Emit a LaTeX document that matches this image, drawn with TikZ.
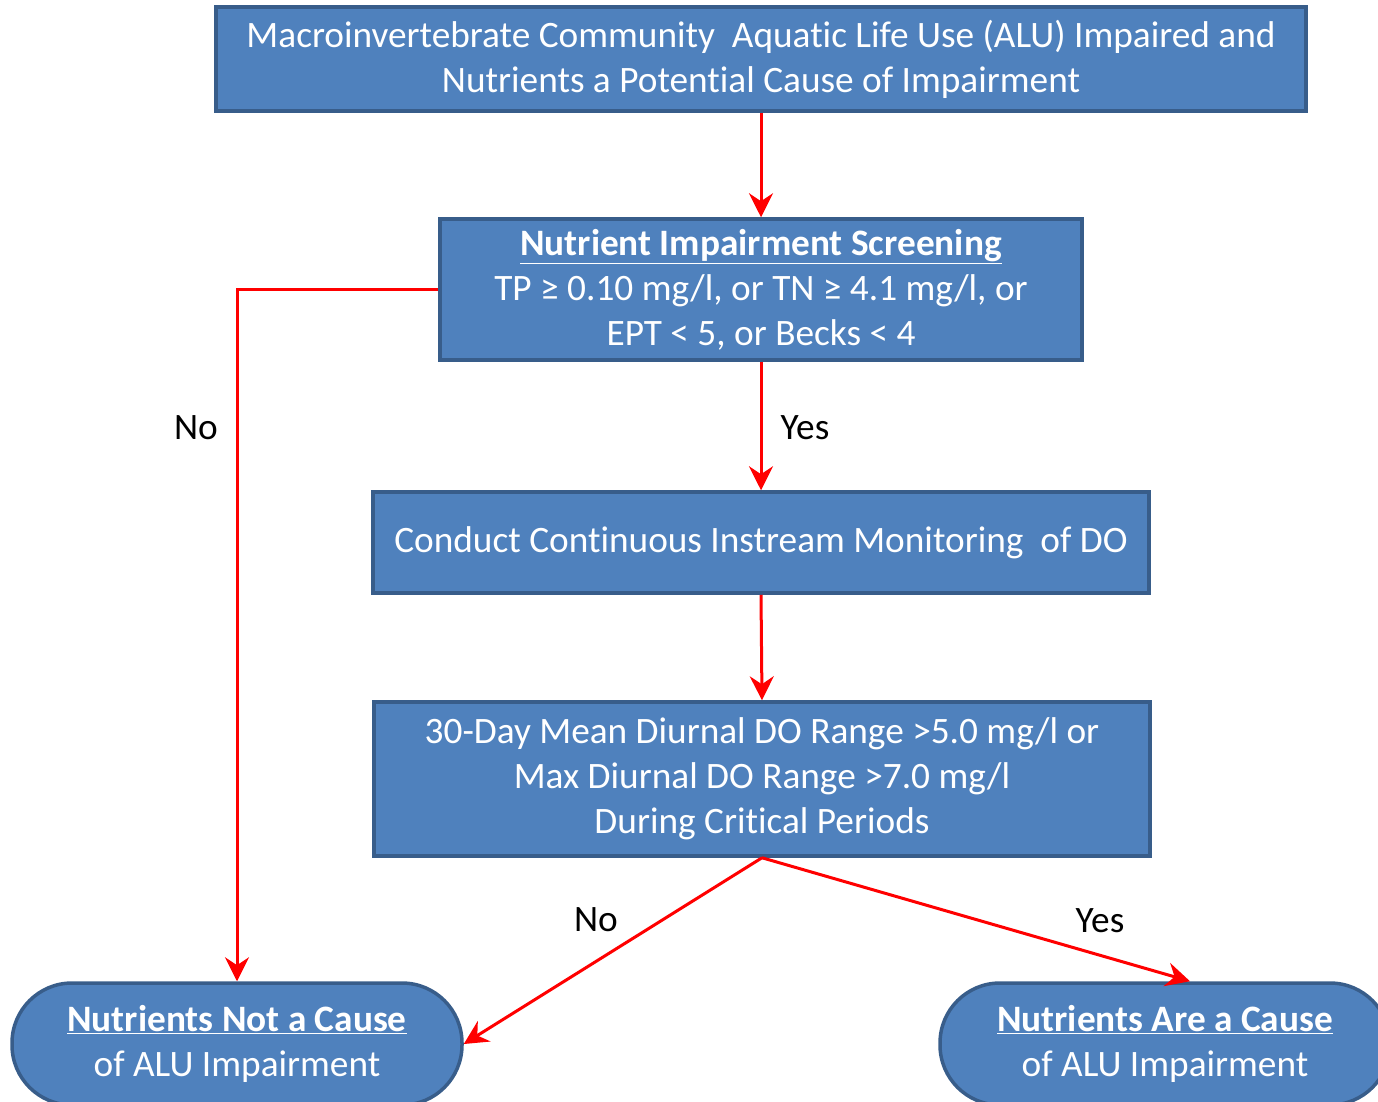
\documentclass[tikz,border=0pt]{standalone}
\usepackage{fontspec}
\setmainfont{Carlito}[Ligatures=NoCommon]
\usetikzlibrary{arrows.meta,calc}
\definecolor{boxfill}{HTML}{4F81BD}
\definecolor{boxline}{HTML}{385D8A}
\begin{document}
\begin{tikzpicture}[x=1pt,y=-1pt,
  box/.style={draw=boxline,fill=boxfill,line width=3.5pt,text=white,align=center,
    font=\fontsize{37.3}{45}\selectfont,inner sep=0pt},
  term/.style={box,rounded corners=60pt},
  conn/.style={draw=red,line width=3pt,-{Stealth[length=24pt,width=24pt,inset=8pt]}},
  lbl/.style={font=\fontsize{37.3}{45}\selectfont,text=black,inner sep=0pt}]
\useasboundingbox (0,0) rectangle (1378,1101);
\clip (0,0) rectangle (1378,1101);
\node[box,minimum width=1090pt,minimum height=104pt] (b1) at (761,59)
  {Macroinvertebrate Community\ \ Aquatic Life Use (ALU) Impaired and\\Nutrients a Potential Cause of Impairment};
\node[box,minimum width=642pt,minimum height=141pt] (b2) at (761,289.5)
  {\textbf{\underline{Nutrient Impairment Screening}}\\TP ≥ 0.10 mg/l, or TN ≥ 4.1 mg/l, or\\EPT < 5, or Becks < 4};
\node[box,minimum width=776pt,minimum height=101pt] (b3) at (761,542.5)
  {Conduct Continuous Instream Monitoring\ \ of DO};
\node[box,minimum width=776pt,minimum height=154pt] (b4) at (762,779)
  {30-Day Mean Diurnal DO Range >5.0 mg/l or\\Max Diurnal DO Range >7.0 mg/l\\During Critical Periods};
\node[term,minimum width=450pt,minimum height=122pt] (sL) at (237,1044)
  {\textbf{\underline{Nutrients Not a Cause}}\\of ALU Impairment};
\node[term,minimum width=450pt,minimum height=122pt] (sR) at (1165,1044)
  {\textbf{\underline{Nutrients Are a Cause}}\\of ALU Impairment};
\coordinate (sRin) at ($(sR.north)+(25,0)$);
\coordinate (b4out) at (b4.south);
\draw[conn] (b1.south) -- (b2.north);
\draw[conn] (b2.west) -| (sL.north);
\draw[conn] (b2.south) -- (b3.north);
\draw[conn] (b3.south) -- (b4.north);
\draw[conn] (b4out) -- (sL.east);
\draw[conn] (b4out) -- (sRin);
\node[lbl] (noA) at (196,428) {No};
\node[lbl] (yesA) at (805,428) {Yes};
\node[lbl] (noB) at (596,920) {No};
\node[lbl] (yesB) at (1100,921) {Yes};
\end{tikzpicture}
\end{document}
